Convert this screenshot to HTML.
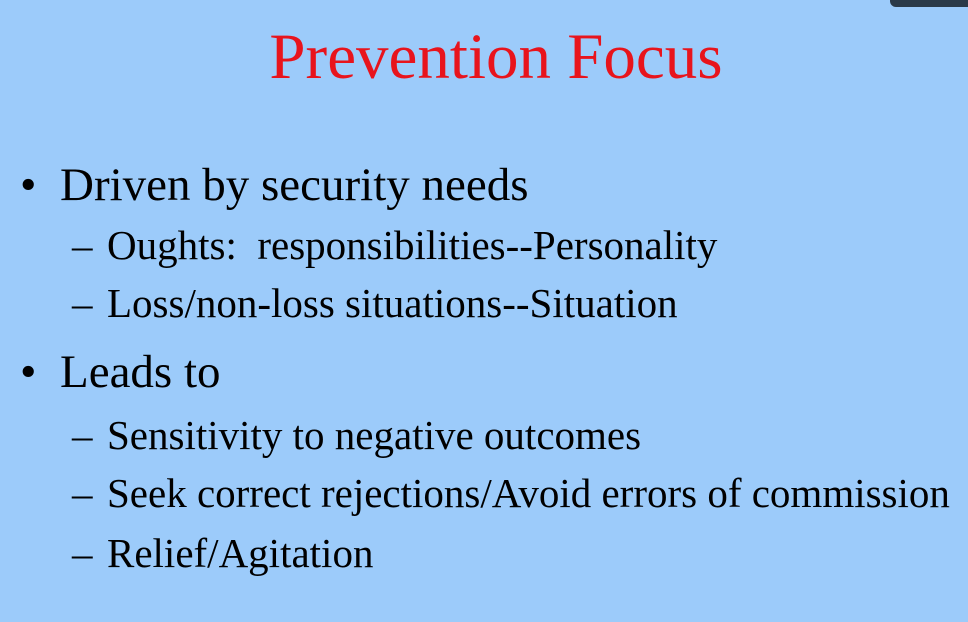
<!DOCTYPE html>
<html><head><meta charset="utf-8">
<style>
html,body{margin:0;padding:0}
body{width:968px;height:622px;background:#9ccbfa;position:relative;overflow:hidden;font-family:"Liberation Serif",serif;color:#000}
.t{position:absolute;white-space:nowrap;line-height:1}
#title{left:0;width:992px;text-align:center;top:25px;font-size:65px;color:#e8141c}
.b1{font-size:47px}
.b2{font-size:41px}
#tab{position:absolute;left:890px;top:-10px;width:90px;height:17px;background:#2b3a48;border-radius:0 0 0 6px}
</style></head>
<body>
<div id="tab"></div>
<div id="title" class="t">Prevention Focus</div>

<div class="t b1" style="left:20px;top:162px">•</div>
<div class="t b1" style="left:60px;top:162px">Driven by security needs</div>
<div class="t b2" style="left:72px;top:225px">–</div>
<div class="t b2" style="left:107px;top:225px">Oughts:&nbsp; responsibilities--Personality</div>
<div class="t b2" style="left:72px;top:283px">–</div>
<div class="t b2" style="left:107px;top:283px">Loss/non-loss situations--Situation</div>

<div class="t b1" style="left:20px;top:349px">•</div>
<div class="t b1" style="left:60px;top:349px">Leads to</div>
<div class="t b2" style="left:72px;top:415px">–</div>
<div class="t b2" style="left:107px;top:415px">Sensitivity to negative outcomes</div>
<div class="t b2" style="left:72px;top:473px">–</div>
<div class="t b2" style="left:107px;top:473px">Seek correct rejections/Avoid errors of commission</div>
<div class="t b2" style="left:72px;top:533px">–</div>
<div class="t b2" style="left:107px;top:533px">Relief/Agitation</div>
</body></html>
